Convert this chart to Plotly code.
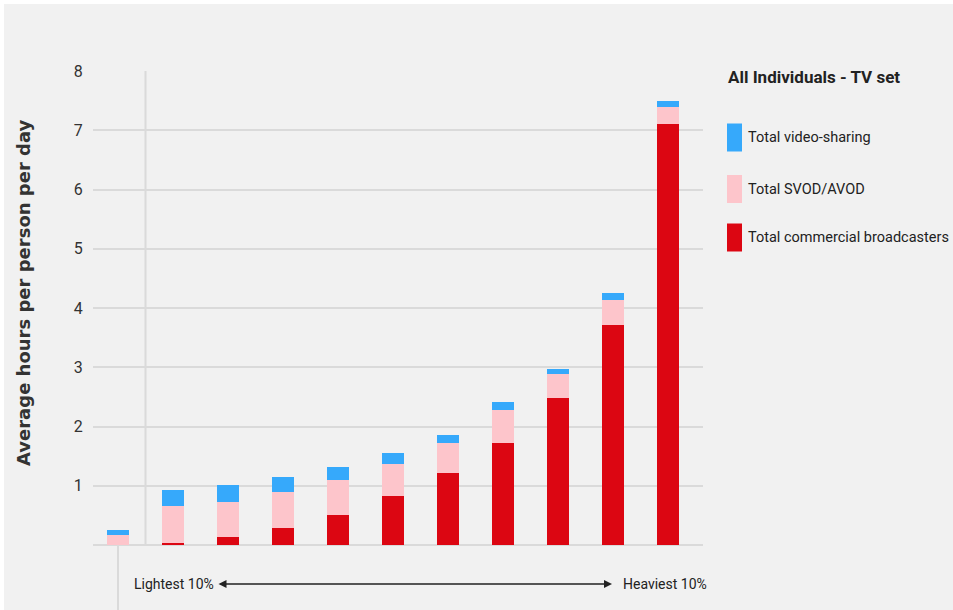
import plotly.graph_objects as go

# Viewing groups, ordered from lightest to heaviest TV-set viewers
groups = ["G1", "G2", "G3", "G4", "G5", "G6", "G7", "G8", "G9", "G10", "G11"]

# Average hours per person per day, by category
commercial = [0.00, 0.04, 0.14, 0.29, 0.51, 0.82, 1.21, 1.73, 2.48, 3.71, 7.11]
svod_avod = [0.17, 0.61, 0.59, 0.60, 0.58, 0.55, 0.52, 0.55, 0.40, 0.43, 0.29]
video_sharing = [0.08, 0.27, 0.28, 0.26, 0.22, 0.18, 0.13, 0.13, 0.09, 0.12, 0.10]

series_names = ["Total video-sharing", "Total SVOD/AVOD", "Total commercial broadcasters"]
series_colors = ["#36a9fb", "#fdc5cb", "#dc0612"]
y_ticks = [1, 2, 3, 4, 5, 6, 7, 8]

W, H = 953, 610
ML, MR, MT, MB = 93, 250, 71, 65
PW, PH = W - ML - MR, H - MT - MB

NARROW = "Roboto, Liberation Sans, sans-serif"
BG = "#f1f1f1"
GRID = "#dadada"
INK = "#222222"

fig = go.Figure()
for vals, name, color in zip(
    [commercial, svod_avod, video_sharing],
    series_names[::-1],
    series_colors[::-1],
):
    fig.add_trace(go.Bar(
        x=groups, y=vals, name=name, marker=dict(color=color, line=dict(width=0)),
        width=0.4, showlegend=False,
    ))

fig.update_layout(
    width=W, height=H,
    margin=dict(l=ML, r=MR, t=MT, b=MB),
    paper_bgcolor=BG, plot_bgcolor=BG,
    barmode="stack",
    xaxis=dict(type="category", range=[-25 / 55, 10 + 35 / 55], showgrid=False,
               showticklabels=False, zeroline=False, showline=False, ticks=""),
    yaxis=dict(range=[0, 8], tickvals=y_ticks, showgrid=True, gridcolor=GRID, gridwidth=2,
               zeroline=True, zerolinecolor=GRID, zerolinewidth=2, showline=False,
               ticks="outside", ticklen=6, tickcolor=BG,
               tickfont=dict(family=NARROW, size=16, color="#333333")),
    font=dict(family=NARROW),
)

def px_x(p):
    return (p - ML) / PW

def px_y(p):
    return (H - MB - p) / PH

shapes = []
# white frame strips on top and left edges
shapes.append(dict(type="rect", xref="paper", yref="paper", x0=px_x(0), x1=px_x(4),
                   y0=px_y(H), y1=px_y(0), fillcolor="white", line=dict(width=0), layer="below"))
shapes.append(dict(type="rect", xref="paper", yref="paper", x0=px_x(0), x1=px_x(W),
                   y0=px_y(4), y1=px_y(0), fillcolor="white", line=dict(width=0), layer="below"))
# separator between the first group and the deciles
shapes.append(dict(type="line", xref="x", yref="y", x0=0.5, x1=0.5, y0=0, y1=8,
                   line=dict(color=GRID, width=2), layer="below"))
shapes.append(dict(type="line", xref="x", yref="paper", x0=0, x1=0, y0=0, y1=px_y(H),
                   line=dict(color=GRID, width=2), layer="below"))

annotations = []
# y axis title
annotations.append(dict(text="<b>Average hours per person per day</b>", xref="paper", yref="paper",
                        x=px_x(23), y=px_y(293), textangle=-90, showarrow=False,
                        xanchor="center", yanchor="middle",
                        font=dict(family="DejaVu Sans, sans-serif", size=18, color="#333333")))
# range arrow below the bars
arrow_y = px_y(584)
annotations.append(dict(x=(612 - 118) / 55, y=arrow_y, xref="x", yref="paper",
                        ax=(217 - 118) / 55, ay=0, axref="x", ayref="pixel",
                        text="", showarrow=True, arrowhead=2, arrowside="end+start",
                        arrowsize=1, arrowwidth=1.6, arrowcolor=INK))
annotations.append(dict(text="Lightest 10%", x=px_x(132), y=arrow_y, xref="paper", yref="paper",
                        xanchor="left", yanchor="middle", showarrow=False,
                        font=dict(family=NARROW, size=14, color=INK)))
annotations.append(dict(text="Heaviest 10%", x=px_x(621), y=arrow_y, xref="paper", yref="paper",
                        xanchor="left", yanchor="middle", showarrow=False,
                        font=dict(family=NARROW, size=14, color=INK)))

# legend block
annotations.append(dict(text="<b>All Individuals - TV set</b>", x=px_x(726), y=px_y(77),
                        xref="paper", yref="paper", xanchor="left", yanchor="middle",
                        showarrow=False, font=dict(family=NARROW, size=17, color=INK)))
legend_rows = [137.5, 189, 237.5]
for name, color, cy in zip(series_names, series_colors, legend_rows):
    shapes.append(dict(type="rect", xref="paper", yref="paper",
                       x0=px_x(727), x1=px_x(742), y0=px_y(cy + 14), y1=px_y(cy - 14),
                       fillcolor=color, line=dict(width=0)))
    annotations.append(dict(text=name, x=px_x(746), y=px_y(cy), xref="paper", yref="paper",
                            xanchor="left", yanchor="middle", showarrow=False,
                            font=dict(family=NARROW, size=14.5, color=INK)))

fig.update_layout(shapes=shapes, annotations=annotations)
fig.write_html("out.html")
